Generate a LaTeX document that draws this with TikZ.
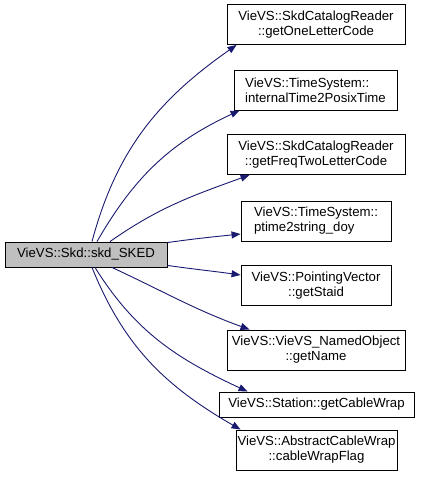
\documentclass[tikz,border=0pt]{standalone}
\usepackage{fontspec}
\setmainfont{Liberation Sans}
\usetikzlibrary{arrows.meta}
\definecolor{edgeblue}{HTML}{191970}
\definecolor{rootgray}{HTML}{BFBFBF}

\begin{document}
\begin{tikzpicture}[x=1pt,y=-1pt]
    \useasboundingbox (0,0) rectangle (421,495);

    \tikzstyle{every node}=[draw,rectangle,line width=0.9pt,fill=white,inner sep=0pt,align=center,minimum height=40pt,font=\fontsize{13.2}{15}\selectfont]
    \tikzstyle{edge}=[edgeblue,line width=0.9pt,-{Triangle[length=9pt,width=7pt]}]

    \node[fill=rootgray,minimum width=162pt,minimum height=25pt](v0) at (86,254.5){VieVS::Skd::skd\_SKED};
    \node[minimum width=178pt](v1) at (316,24.5){VieVS::SkdCatalogReader\\::getOneLetterCode};
    \node[minimum width=163pt,align=left](v2) at (315.5,90){VieVS::TimeSystem::\\internalTime2PosixTime};
    \node[minimum width=178pt](v3) at (316,154.5){VieVS::SkdCatalogReader\\::getFreqTwoLetterCode};
    \node[minimum width=150pt,align=left](v4) at (316,221){VieVS::TimeSystem::\\ptime2string\_doy};
    \node[minimum width=150pt](v5) at (316,285.5){VieVS::PointingVector\\::getStaid};
    \node[minimum width=178pt](v6) at (316,350){VieVS::VieVS\_NamedObject\\::getName};
    \node[minimum width=195pt,minimum height=25pt](v7) at (316.5,404.5){VieVS::Station::getCableWrap};
    \node[minimum width=161pt](v8) at (316.5,450){VieVS::AbstractCableWrap\\::cableWrapFlag};

    % calls
    \draw[edge] ([xshift=6pt]v0.north) to[out=75,in=215] ([xshift=10pt]v1.south west);
    \draw[edge] ([xshift=11pt]v0.north) to[out=60,in=205] ([xshift=6pt]v2.south west);
    \draw[edge] ([xshift=24pt]v0.north) to[out=35,in=200] ([xshift=23pt]v3.south west);
    \draw[edge] ([yshift=-1pt]v0.north east) to[out=8,in=186] ([yshift=-13pt]v4.west);
    \draw[edge] ([yshift=2pt]v0.south east) to[out=-8,in=172] ([yshift=10.5pt]v5.west);
    \draw[edge] ([xshift=26pt]v0.south) to[out=-25,in=160] ([xshift=23pt]v6.north west);
    \draw[edge] ([xshift=9pt]v0.south) to[out=-58,in=155] ([xshift=29pt]v7.north west);
    \draw[edge] ([xshift=6pt]v0.south) to[out=-68,in=150] ([xshift=5pt]v8.north west);

\end{tikzpicture}
\end{document}
